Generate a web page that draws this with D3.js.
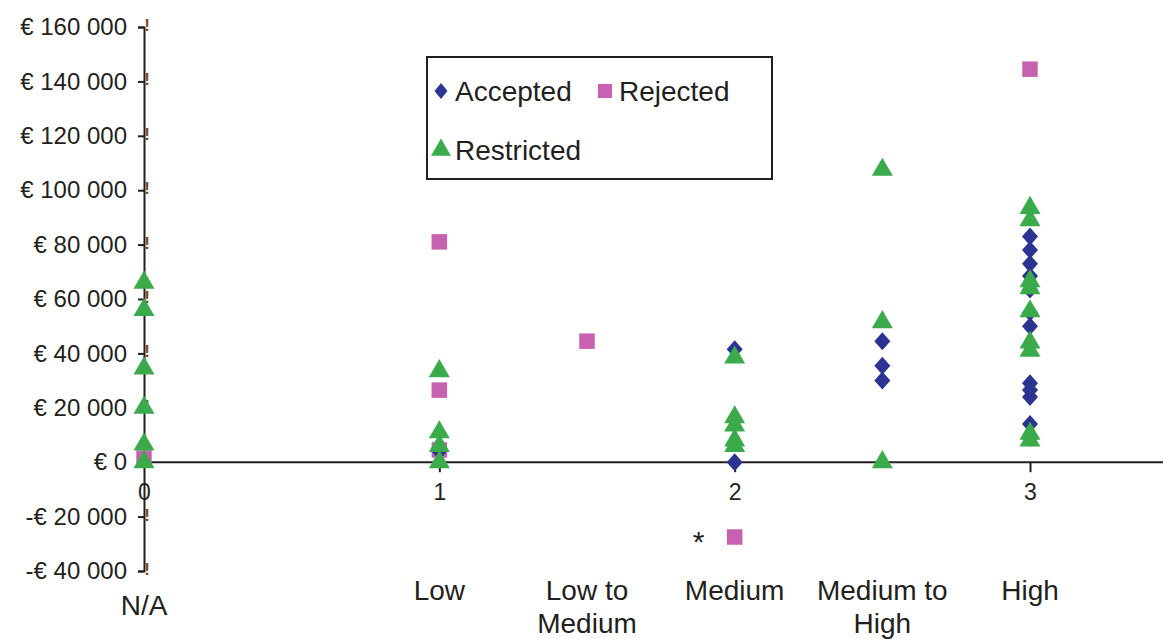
<!DOCTYPE html>
<html><head><meta charset="utf-8">
<script src="https://cdn.jsdelivr.net/npm/d3@7"></script>
<style>body{margin:0;background:#fff}svg{display:block;font-family:"Liberation Sans",Arial,sans-serif}</style>
</head><body><svg id="c" width="1163" height="639"></svg>
<script>
// ---- data ----
const yTicks = [-40000,-20000,0,20000,40000,60000,80000,100000,120000,140000,160000];
const xTicks = [0,1,2,3];
const levelPos = [0,1,1.5,2,2.5,3];
const levelLabels = [["N/A"],["Low"],["Low to","Medium"],["Medium"],["Medium to","High"],["High"]];
const seriesNames = ["Accepted","Rejected","Restricted"];

const acceptedX = [1,2,2,2.5,2.5,2.5,3,3,3,3,3,3,3,3,3,3,3,3];
const acceptedV = [4000,41500,0,44500,35500,30000,83000,78000,73000,68500,63500,55000,50000,29000,26500,24000,14000,9000];

const rejectedX = [0,1,1,1,1.5,2,3];
const rejectedV = [1500,81000,26500,4500,44500,-27500,144500];

const restrictedX = [0,0,0,0,0,0,1,1,1,1,2,2,2,2,2,2.5,2.5,2.5,3,3,3,3,3,3,3,3,3];
const restrictedV = [66000,56000,34500,20000,6500,0,33500,11000,6000,0,38500,16500,13500,8000,6000,107500,51500,0,93500,89000,66500,64000,55500,44000,41000,10500,8000];

// ---- chart ----
const svg = d3.select("#c");
const colors = {Accepted:"#2b3591", Rejected:"#c862b0", Restricted:"#3aaa4a"};
const x = d3.scaleLinear().domain([0,3]).range([144,1030]);
const y = d3.scaleLinear().domain([-40000,160000]).range([571,27]);
const ink = "#231f20";

const fmt = d => (d<0?"-":"") + "€ " + d3.format(",")(Math.abs(d)).replace(/,/g," ");

// y axis
const yAxis = svg.append("g").attr("transform","translate("+x(0)+",0)")
  .call(d3.axisLeft(y).tickValues(yTicks).tickFormat(fmt).tickSize(6).tickPadding(11));
yAxis.select(".domain").attr("stroke",ink).attr("stroke-width",2);
yAxis.selectAll(".tick line").attr("stroke",ink).attr("stroke-width",2);
yAxis.selectAll("text").attr("font-size",24).attr("fill",ink).attr("font-family","Liberation Sans, Arial, sans-serif");

// small marks at y ticks
svg.append("g").selectAll("text").data(yTicks).join("text")
  .attr("x",x(0)+3).attr("y",d=>y(d)+4).attr("text-anchor","middle")
  .attr("font-size",17).attr("font-weight","bold").attr("fill","#7a4a20").text("!");

// x axis
svg.append("line").attr("x1",x(0)).attr("x2",1163).attr("y1",y(0)).attr("y2",y(0))
  .attr("stroke",ink).attr("stroke-width",2);
const xAxis = svg.append("g").attr("transform","translate(0,"+y(0)+")")
  .call(d3.axisBottom(x).tickValues(xTicks).tickFormat(d3.format("d")).tickSize(10).tickPadding(11));
xAxis.select(".domain").remove();
xAxis.selectAll(".tick line").attr("stroke",ink).attr("stroke-width",2);
xAxis.selectAll(".tick").filter(d=>d===0).select("line").remove();
xAxis.selectAll("text").attr("font-size",23).attr("fill",ink).attr("font-family","Liberation Sans, Arial, sans-serif");

// level labels
const lab = svg.append("g").selectAll("text").data(levelPos).join("text")
  .attr("x",d=>x(d)).attr("y",(d,i)=> i===0?615:600).attr("text-anchor","middle")
  .attr("font-size",28).attr("fill",ink);
lab.each(function(d,i){
  const t = d3.select(this);
  levelLabels[i].forEach((s,j)=>{
    t.append("tspan").attr("x",x(d)).attr("dy", j===0?0:33).text(s);
  });
});

// asterisk
svg.append("text").attr("x",x(2)-36).attr("y",y(-27500)+15).attr("text-anchor","middle")
  .attr("font-size",30).attr("fill",ink).text("*");

// markers
const diamond = (w,h) => { const p = d3.path(); p.moveTo(0,-h/2); p.lineTo(w/2,0); p.lineTo(0,h/2); p.lineTo(-w/2,0); p.closePath(); return p.toString(); };
const shapes = {
  Accepted: diamond(16,18),
  Rejected: d3.symbol().type(d3.symbolSquare).size(240)(),
  Restricted: d3.symbol().type(d3.symbolTriangle).size(190)()
};
function plot(name, xs, vs){
  svg.append("g").selectAll("path").data(xs.map((v,i)=>[v,vs[i]])).join("path")
    .attr("d",shapes[name])
    .attr("transform",d=>"translate("+x(d[0])+","+y(d[1])+")")
    .attr("fill",colors[name]);
}
plot("Rejected", rejectedX, rejectedV);
plot("Accepted", acceptedX, acceptedV);
plot("Restricted", restrictedX, restrictedV);

// legend
const lg = svg.append("g");
lg.append("rect").attr("x",427).attr("y",57).attr("width",345).attr("height",122)
  .attr("fill","#fff").attr("stroke",ink).attr("stroke-width",2);
const legendPos = [[441,91],[605,91],[441,150]];
const legendShapes = {
  Accepted: diamond(13,16),
  Rejected: d3.symbol().type(d3.symbolSquare).size(200)(),
  Restricted: d3.symbol().type(d3.symbolTriangle).size(170)()
};
seriesNames.forEach((n,i)=>{
  const [lx,ly] = legendPos[i];
  lg.append("path").attr("d",legendShapes[n])
    .attr("transform","translate("+lx+","+ly+")")
    .attr("fill",colors[n]);
  lg.append("text").attr("x",lx+14).attr("y",ly+10).attr("font-size",28).attr("fill",ink).text(n);
});
</script></body></html>
